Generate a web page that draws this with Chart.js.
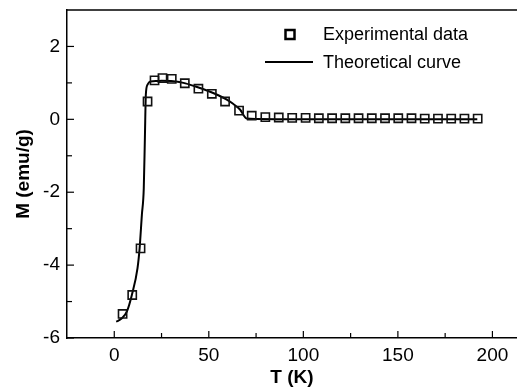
<!DOCTYPE html>
<html><head><meta charset="utf-8">
<script src="https://cdn.jsdelivr.net/npm/chart.js@4"></script>
<style>html,body{margin:0;padding:0;background:#fff}#wrap{width:517px;height:389px}</style>
</head><body><div id="wrap"><canvas id="c" width="517" height="389"></canvas></div>
<script>
// Experimental data (T in K, M in emu/g)
const expT = [4.4, 9.5, 13.9, 17.6, 21.3, 25.5, 30.4, 37.3, 44.5, 51.6, 58.6, 66.0, 72.7, 79.9, 87.0, 94.1, 101.2, 108.2, 115.2, 122.2, 129.2, 136.2, 143.2, 150.2, 157.2, 164.2, 171.2, 178.2, 185.2, 192.2];
const expM = [-5.34, -4.82, -3.54, 0.49, 1.07, 1.13, 1.11, 0.99, 0.84, 0.70, 0.49, 0.24, 0.10, 0.06, 0.05, 0.04, 0.04, 0.03, 0.03, 0.03, 0.03, 0.03, 0.03, 0.03, 0.03, 0.02, 0.02, 0.02, 0.02, 0.02];
// Theoretical curve
const curveT = [1.0, 2.0, 4.0, 6.7, 9.3, 12.3, 13.4, 14.6, 15.6, 16.2, 16.7, 17.6, 19.0, 22.5, 25.0, 30.0, 36.6, 43.0, 49.0, 55.0, 59.5, 63.0, 66.5, 70.0, 75.0, 100.0, 150.0, 192.0];
const curveM = [-5.55, -5.53, -5.46, -5.27, -4.82, -4.08, -3.54, -2.62, -1.90, -0.50, 0.68, 0.95, 1.04, 1.05, 1.06, 1.05, 1.00, 0.90, 0.79, 0.66, 0.54, 0.42, 0.27, 0.02, 0.01, 0.00, 0.00, 0.00];
// Tick values
const xMajorTicks = [0, 50, 100, 150, 200];
const xMinorTicks = [25, 75, 125, 175];
const yMajorTicks = [-6, -4, -2, 0, 2];
const yMinorTicks = [-5, -3, -1, 1];
const legendLabels = ['Experimental data', 'Theoretical curve'];

const FONT = "'Liberation Sans', Arial, Helvetica, sans-serif";

const extras = {
  id: 'extras',
  afterDraw(chart) {
    const ctx = chart.ctx, a = chart.chartArea;
    const xs = chart.scales.x, ys = chart.scales.y;
    ctx.save();
    ctx.strokeStyle = '#000';
    ctx.lineWidth = 1.5;
    ctx.beginPath(); ctx.moveTo(a.left, a.top); ctx.lineTo(a.right, a.top); ctx.stroke();
    ctx.lineWidth = 1.2;
    const tk = (vals, len) => {
      vals.forEach(v => {
        const p = xs.getPixelForValue(v);
        ctx.beginPath(); ctx.moveTo(p, a.bottom); ctx.lineTo(p, a.bottom - len); ctx.stroke();
      });
    };
    tk(xMajorTicks, 7); tk(xMinorTicks, 5);
    const tky = (vals, len) => {
      vals.forEach(v => {
        const p = ys.getPixelForValue(v);
        ctx.beginPath(); ctx.moveTo(a.left, p); ctx.lineTo(a.left + len, p); ctx.stroke();
      });
    };
    tky(yMajorTicks, 7); tky(yMinorTicks, 5);
    ctx.fillStyle = '#000';
    ctx.font = '18px ' + FONT;
    ctx.textBaseline = 'middle';
    ctx.textAlign = 'left';
    ctx.lineWidth = 2.5;
    ctx.strokeStyle = '#000';
    ctx.strokeRect(285.5, 30, 9, 9);
    ctx.fillText(legendLabels[0], 323, 35);
    ctx.lineWidth = 1.8;
    ctx.beginPath(); ctx.moveTo(265, 62); ctx.lineTo(313, 62); ctx.stroke();
    ctx.fillText(legendLabels[1], 323, 63);
    ctx.restore();
  }
};

const zeroX = s => { s.paddingLeft = 0; s.paddingRight = 0; };
const zeroY = s => { s.paddingTop = 0; s.paddingBottom = 0; };

new Chart(document.getElementById('c'), {
  type: 'scatter',
  data: {
    datasets: [
      {
        label: legendLabels[0],
        data: expT.map((t, i) => ({x: t, y: expM[i]})),
        pointStyle: 'rect',
        pointRadius: 5.8,
        pointBorderWidth: 1.6,
        pointBorderColor: '#111',
        pointBackgroundColor: 'rgba(0,0,0,0)',
        showLine: false,
        order: 1
      },
      {
        label: legendLabels[1],
        data: curveT.map((t, i) => ({x: t, y: curveM[i]})),
        showLine: true,
        borderColor: '#000',
        borderWidth: 2,
        pointRadius: 0,
        cubicInterpolationMode: 'monotone',
        fill: false,
        order: 2
      }
    ]
  },
  options: {
    responsive: false,
    animation: false,
    devicePixelRatio: 1,
    layout: {autoPadding: false, padding: {top: 10, right: 0, left: 0, bottom: 0}},
    plugins: {legend: {display: false}, tooltip: {enabled: false}},
    scales: {
      x: {
        type: 'linear', min: -25, max: 213,
        afterBuildTicks: s => { s.ticks = xMajorTicks.map(v => ({value: v})); },
        afterFit: s => { s.height = 51; zeroX(s); },
        grid: {display: false, drawTicks: false},
        border: {display: true, color: '#000', width: 1.5},
        ticks: {font: {family: FONT, size: 19}, color: '#000', padding: 6, maxRotation: 0, autoSkip: false},
        title: {display: true, text: 'T (K)', color: '#000', font: {family: FONT, size: 19, weight: 'bold'}, padding: {top: 0, bottom: 0}}
      },
      y: {
        type: 'linear', min: -6, max: 3,
        afterBuildTicks: s => { s.ticks = yMajorTicks.map(v => ({value: v})); },
        afterFit: s => { s.width = 67; zeroY(s); },
        grid: {display: false, drawTicks: false},
        border: {display: true, color: '#000', width: 1.5},
        ticks: {font: {family: FONT, size: 19}, color: '#000', padding: 7, autoSkip: false},
        title: {display: true, text: 'M (emu/g)', color: '#000', font: {family: FONT, size: 19, weight: 'bold'}, padding: {top: 12, bottom: 0}}
      }
    }
  },
  plugins: [extras]
});
</script>
</body></html>
